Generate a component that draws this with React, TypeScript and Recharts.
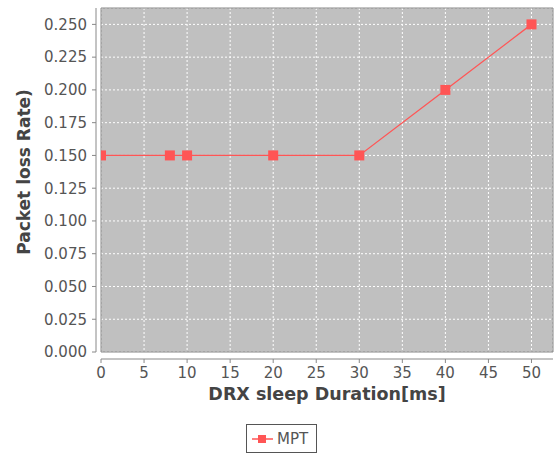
import { LineChart, Line, XAxis, YAxis, CartesianGrid, Legend, ReferenceArea } from 'recharts'

const sleepDuration = [0, 8, 10, 20, 30, 40, 50]
const lossRate = [0.15, 0.15, 0.15, 0.15, 0.15, 0.2, 0.25]
const xTicks = [0, 5, 10, 15, 20, 25, 30, 35, 40, 45, 50]
const yTicks = [0, 0.025, 0.05, 0.075, 0.1, 0.125, 0.15, 0.175, 0.2, 0.225, 0.25]
const seriesName = 'MPT'

const data = sleepDuration.map((x, i) => ({ x, mpt: lossRate[i] }))

const FONT = '"DejaVu Sans", sans-serif'
const RED = '#FF5555'

const SquareDot = (props: any) => {
    const { cx, cy } = props
    if (cx == null || cy == null) return null
    return <rect x={cx - 5} y={cy - 5} width={10} height={10} fill={RED} />
}

const YLabel = () => (
    <text
        x={24}
        y={172}
        transform="rotate(-90 24 172)"
        textAnchor="middle"
        dominantBaseline="central"
        fontFamily={FONT}
        fontSize={17}
        fontWeight="bold"
        fill="#444"
    >
        Packet loss Rate)
    </text>
)

const LegendBox = () => (
    <div
        style={{
            border: '1px solid #555',
            width: 71,
            height: 29,
            boxSizing: 'border-box',
            display: 'flex',
            alignItems: 'center',
            fontFamily: FONT,
            fontSize: 15,
            color: '#555',
        }}
    >
        <svg width={26} height={12} style={{ marginLeft: 4 }}>
            <line x1={1} y1={6} x2={22} y2={6} stroke={RED} strokeWidth={1.5} />
            <rect x={7} y={2} width={8} height={8} fill={RED} />
        </svg>
        <span>{seriesName}</span>
    </div>
)

export default function App() {
    return (
        <div style={{ position: 'absolute', left: 0, top: 0, background: '#fff' }}>
            <LineChart
                width={560}
                height={455}
                data={data}
                margin={{ top: 8, right: 7, bottom: 0, left: 0 }}
            >
                <CartesianGrid
                    fill="#C0C0C0"
                    fillOpacity={1}
                    stroke="#ffffff"
                    strokeDasharray="2 2"
                />
                <ReferenceArea
                    x1={0}
                    x2={52.5}
                    y1={0}
                    y2={0.2625}
                    fill="none"
                    stroke="#888"
                    strokeWidth={1}
                    ifOverflow="visible"
                />
                <XAxis
                    dataKey="x"
                    type="number"
                    domain={[0, 52.5]}
                    ticks={xTicks}
                    allowDataOverflow
                    height={103}
                    tickSize={4}
                    tickMargin={11}
                    axisLine={{ stroke: '#888', transform: 'translate(0,7)' }}
                    tickLine={{ stroke: '#888', transform: 'translate(0,7)' }}
                    tick={{ fill: '#555', fontSize: 15, fontFamily: FONT }}
                    label={{
                        value: 'DRX sleep Duration[ms]',
                        position: 'insideTop',
                        offset: 36,
                        fill: '#444',
                        fontSize: 17.5,
                        fontWeight: 'bold',
                        fontFamily: FONT,
                    }}
                />
                <YAxis
                    type="number"
                    domain={[0, 0.2625]}
                    ticks={yTicks}
                    allowDataOverflow
                    width={101}
                    tickSize={4}
                    tickMargin={10}
                    tickFormatter={(v: number) => v.toFixed(3)}
                    axisLine={{ stroke: '#888', transform: 'translate(-5,0)' }}
                    tickLine={{ stroke: '#888', transform: 'translate(-5,0)' }}
                    tick={{ fill: '#555', fontSize: 15, fontFamily: FONT }}
                    label={<YLabel />}
                />
                <Legend
                    layout="horizontal"
                    verticalAlign="middle"
                    align="center"
                    wrapperStyle={{ left: 246, top: 424, width: 'auto' }}
                    content={() => <LegendBox />}
                />
                <Line
                    dataKey="mpt"
                    name={seriesName}
                    stroke={RED}
                    strokeWidth={1.3}
                    dot={<SquareDot r={0} strokeWidth={0} />}
                    activeDot={false}
                    isAnimationActive={false}
                />
            </LineChart>
        </div>
    )
}
